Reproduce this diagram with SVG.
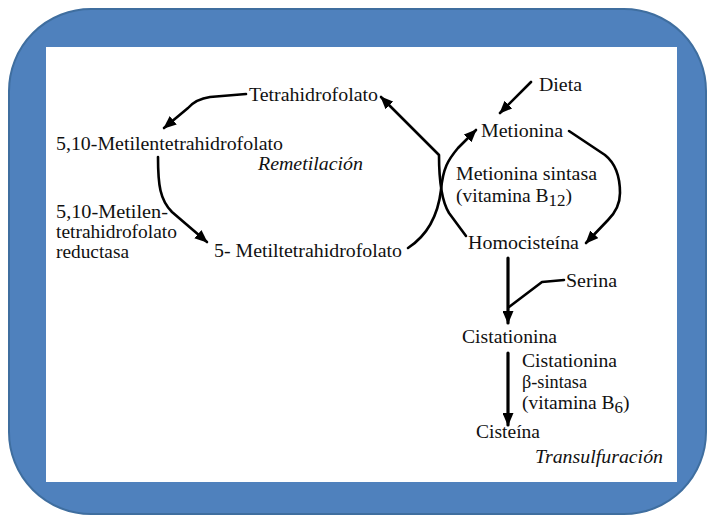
<svg xmlns="http://www.w3.org/2000/svg" width="707" height="517" viewBox="0 0 707 517">
  <style>
    .t { font-family: "Liberation Serif", "DejaVu Serif", serif; font-size: 19.5px; fill: #111; }
    .i { font-style: italic; }
    .c { fill: none; stroke: #000; stroke-width: 2.6; stroke-linejoin: round; stroke-linecap: round; }
    .v { stroke-width: 3.2; }
  </style>
  <defs>
    <marker id="ah" markerUnits="userSpaceOnUse" markerWidth="13" markerHeight="11" refX="12" refY="5.5" orient="auto">
      <path d="M0,0 L13,5.5 L0,11 z" fill="#000"/>
    </marker>
  </defs>

  <g id="frame">
    <rect x="9" y="9" width="697" height="505" rx="82" ry="82" fill="#4F81BD" stroke="#3F6E9F" stroke-width="2"/>
    <rect x="46" y="47" width="631" height="435" fill="#FFFFFF"/>
  </g>

  <g id="connectors">
    <path class="c" d="M246,94 L210,97 Q196,99 188,108 L164,128" marker-end="url(#ah)"/>
    <path class="c" d="M158,157 C158,185 160,200 172,212 L207,242" marker-end="url(#ah)"/>
    <path class="c" d="M408,248 C428,235 438,215 441,190 C443,168 448,160 458,148 L476,130" marker-end="url(#ah)"/>
    <path class="c" d="M466,236 L449,213 C441,200 439,180 439,155 L381,97" marker-end="url(#ah)"/>
    <path class="c" d="M569,131 L605,155 C615,163 620,175 620,193 C620,205 615,213 608,220 L586,243" marker-end="url(#ah)"/>
    <path class="c" d="M531,82 L500,113" marker-end="url(#ah)"/>
    <path class="c v" d="M508,258 L508,323" marker-end="url(#ah)"/>
    <path class="c" d="M564,280 L542,282 L509,307"/>
    <path class="c v" d="M508,353 L508,425" marker-end="url(#ah)"/>
  </g>

  <g id="thf"><text class="t" x="249" y="101" textLength="129" lengthAdjust="spacingAndGlyphs">Tetrahidrofolato</text></g>
  <g id="mthf510"><text class="t" x="56" y="150" textLength="227" lengthAdjust="spacingAndGlyphs">5,10-Metilentetrahidrofolato</text></g>
  <g id="remetilacion"><text class="t i" x="258" y="170" textLength="105" lengthAdjust="spacingAndGlyphs">Remetilación</text></g>
  <g id="mthfr">
    <text class="t" x="56" y="218" textLength="112" lengthAdjust="spacingAndGlyphs">5,10-Metilen-</text>
    <text class="t" x="56" y="238" textLength="121" lengthAdjust="spacingAndGlyphs">tetrahidrofolato</text>
    <text class="t" x="56" y="258" textLength="73" lengthAdjust="spacingAndGlyphs">reductasa</text>
  </g>
  <g id="mthf5"><text class="t" x="214" y="257" textLength="188" lengthAdjust="spacingAndGlyphs">5- Metiltetrahidrofolato</text></g>
  <g id="dieta"><text class="t" x="539" y="91" textLength="43" lengthAdjust="spacingAndGlyphs">Dieta</text></g>
  <g id="metionina"><text class="t" x="481" y="137" textLength="82" lengthAdjust="spacingAndGlyphs">Metionina</text></g>
  <g id="ms">
    <text class="t" x="456" y="180" textLength="141" lengthAdjust="spacingAndGlyphs">Metionina sintasa</text>
    <text class="t" x="456" y="202">(vitamina B<tspan dy="4" font-size="17">12</tspan><tspan dy="-4">)</tspan></text>
  </g>
  <g id="homocisteina"><text class="t" x="468" y="249" textLength="111" lengthAdjust="spacingAndGlyphs">Homocisteína</text></g>
  <g id="serina"><text class="t" x="566" y="287" textLength="51" lengthAdjust="spacingAndGlyphs">Serina</text></g>
  <g id="cistationina"><text class="t" x="462" y="343" textLength="95" lengthAdjust="spacingAndGlyphs">Cistationina</text></g>
  <g id="cbs">
    <text class="t" x="522" y="367" textLength="95" lengthAdjust="spacingAndGlyphs">Cistationina</text>
    <text class="t" x="522" y="388" textLength="65" lengthAdjust="spacingAndGlyphs">β-sintasa</text>
    <text class="t" x="522" y="409">(vitamina B<tspan dy="4" font-size="17">6</tspan><tspan dy="-4">)</tspan></text>
  </g>
  <g id="cisteina"><text class="t" x="476" y="438" textLength="64" lengthAdjust="spacingAndGlyphs">Cisteína</text></g>
  <g id="transulfuracion"><text class="t i" x="535" y="463" textLength="128" lengthAdjust="spacingAndGlyphs">Transulfuración</text></g>
</svg>
